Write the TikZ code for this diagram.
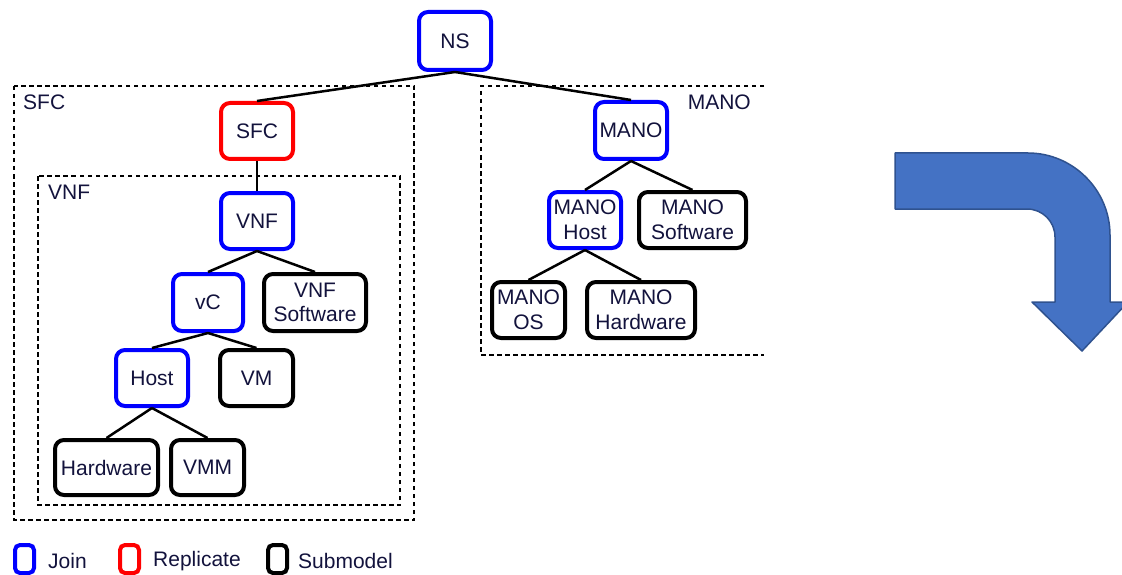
\documentclass[tikz,border=0pt]{standalone}
\usepackage{fontspec}
\setmainfont{Liberation Sans}
\definecolor{txt}{RGB}{18,18,60}
\definecolor{joinc}{RGB}{0,0,255}
\definecolor{repc}{RGB}{255,0,0}
\definecolor{arrowfill}{RGB}{68,114,196}
\definecolor{arrowline}{RGB}{47,82,143}
\begin{document}
\begin{tikzpicture}[x=1pt,y=-1pt,
  every node/.style={text=txt,font=\fontsize{21}{24.7}\selectfont},
  nd/.style={draw,rounded corners=9pt,line width=4pt,fill=white,align=center,inner sep=0pt},
  joinnd/.style={nd,draw=joinc},
  repnd/.style={nd,draw=repc},
  subnd/.style={nd,draw=black},
  conn/.style={line width=2.5pt,black},
  grp/.style={line width=1.4pt,dash pattern=on 4.5pt off 3.5pt},
  lbl/.style={inner sep=0pt},
  legbox/.style={line width=4pt,rounded corners=5pt}
]
\path[use as bounding box,clip] (0,0) rectangle (1122,575);

% group boxes
\draw[grp] (14,86) rectangle (414,520);
\draw[grp] (38,176) rectangle (400,505);
\draw[grp] (764,86) -- (481,86) -- (481,355) -- (764,355);
\node[lbl,anchor=west] (lsfc) at (23,102) {SFC};
\node[lbl,anchor=west] (lvnf) at (48,192) {VNF};
\node[lbl,anchor=east] (lmano) at (751,102) {MANO};

% nodes
\node[joinnd,minimum width=72,minimum height=58] (ns) at (455,41) {NS};
\node[repnd,minimum width=72,minimum height=56] (sfc) at (257,131) {SFC};
\node[joinnd,minimum width=72,minimum height=56] (vnf) at (257,221) {VNF};
\node[joinnd,minimum width=70,minimum height=57] (vc) at (208,302.5) {vC};
\node[subnd,minimum width=102,minimum height=57] (vnfsw) at (315,302.5) {VNF\\Software};
\node[joinnd,minimum width=72,minimum height=56] (host) at (152,378) {Host};
\node[subnd,minimum width=73,minimum height=56] (vm) at (256.5,378) {VM};
\node[subnd,minimum width=103,minimum height=55] (hw) at (106.5,467.5) {Hardware};
\node[subnd,minimum width=73,minimum height=55] (vmm) at (207.5,467.5) {VMM};
\node[joinnd,minimum width=72,minimum height=57] (mano) at (631,130.5) {MANO};
\node[joinnd,minimum width=72,minimum height=56] (manohost) at (585,220) {MANO\\Host};
\node[subnd,minimum width=107,minimum height=56] (manosw) at (692.5,220) {MANO\\Software};
\node[subnd,minimum width=73,minimum height=56] (manoos) at (528.5,310) {MANO\\OS};
\node[subnd,minimum width=108,minimum height=56] (manohw) at (641,310) {MANO\\Hardware};

% connectors
\draw[conn] (ns.south) -- (sfc.north);
\draw[conn] (ns.south) -- (mano.north);
\draw[conn] (sfc.south) -- (vnf.north);
\draw[conn] (vnf.south) -- (vc.north);
\draw[conn] (vnf.south) -- (vnfsw.north);
\draw[conn] (vc.south) -- (host.north);
\draw[conn] (vc.south) -- (vm.north);
\draw[conn] (host.south) -- (hw.north);
\draw[conn] (host.south) -- (vmm.north);
\draw[conn] (mano.south) -- (manohost.north);
\draw[conn] (mano.south) -- (manosw.north);
\draw[conn] (manohost.south) -- (manoos.north);
\draw[conn] (manohost.south) -- (manohw.north);

% legend
\draw[legbox,draw=joinc] (15,545) rectangle (34,573);
\node[lbl,anchor=west] (ljoin) at (48,561) {Join};
\draw[legbox,draw=repc] (120,545) rectangle (139,573);
\node[lbl,anchor=west] (lrep) at (153,561) {Replicate};
\draw[legbox,draw=black] (268,545) rectangle (287,573);
\node[lbl,anchor=west] (lsub) at (298,561) {Submodel};

% bent arrow
\draw[fill=arrowfill,draw=arrowline,line width=1.5pt,line join=round]
  (895,153) -- (1028,153)
  .. controls (1073,153) and (1110,190) .. (1110,235)
  -- (1110,302) -- (1128,302) -- (1082,351) -- (1032,302) -- (1055,302)
  -- (1055,237)
  .. controls (1055,221.5) and (1042.5,209) .. (1027,209)
  -- (895,209) -- cycle;
\end{tikzpicture}
\end{document}
